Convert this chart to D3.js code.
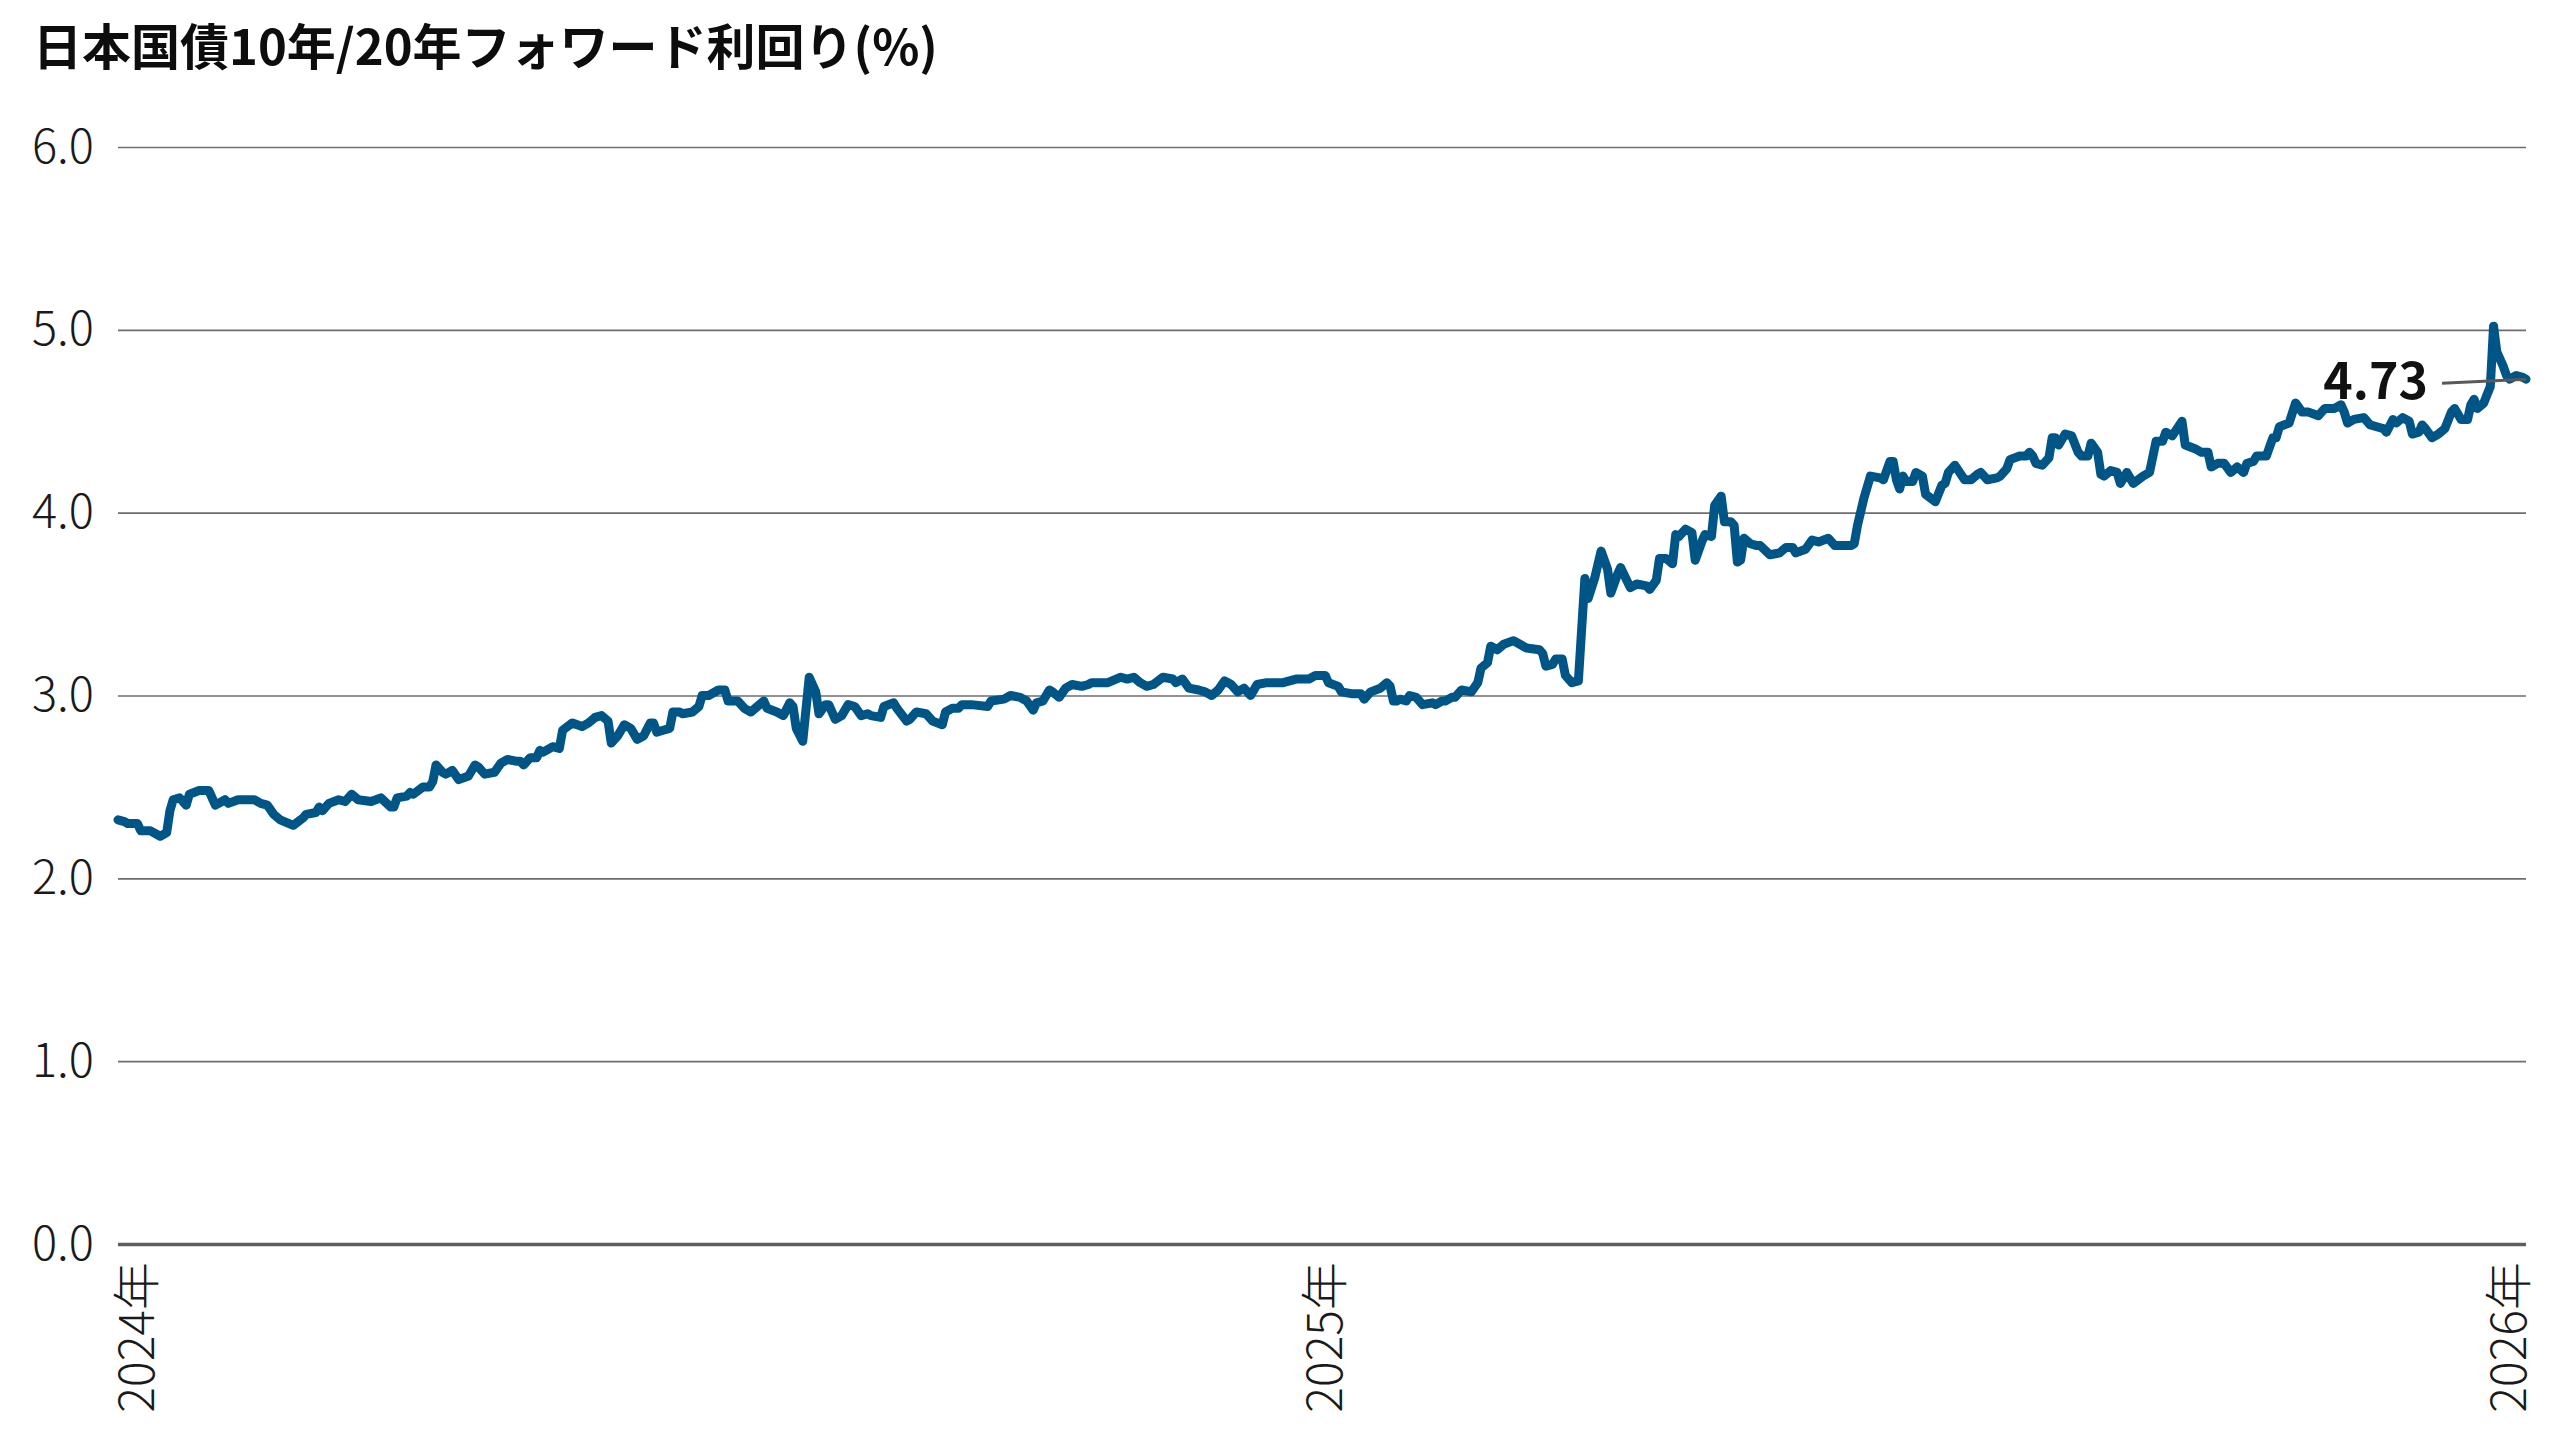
<!DOCTYPE html>
<html lang="ja">
<head>
<meta charset="utf-8">
<title>日本国債10年/20年フォワード利回り</title>
<script src="https://cdn.jsdelivr.net/npm/d3@7"></script>
<style>
  html, body { margin: 0; padding: 0; background: #fff; }
  svg { display: block; font-family: "Noto Sans CJK JP", "Noto Sans", sans-serif; }
</style>
</head>
<body>
<svg id="chart" width="2560" height="1440"></svg>
<script>
// --- data ---
const chartTitle = "日本国債10年/20年フォワード利回り(%)";
const startDate = new Date(2024, 0, 1);

// [days since 2024-01-01, yield %]
const yieldSeries = [
  [0, 2.32], [2, 2.31], [3, 2.30], [6, 2.30], [7, 2.26], [10, 2.26], [13, 2.23], [15, 2.25], [16, 2.37], [17, 2.43],
  [19, 2.44], [21, 2.40], [22, 2.46], [25, 2.48], [26, 2.48], [28, 2.48], [30, 2.40], [33, 2.43], [34, 2.41], [37, 2.43],
  [42, 2.43], [44, 2.41], [46, 2.40], [48, 2.35], [50, 2.32], [54, 2.29], [57, 2.33], [58, 2.35], [61, 2.36], [62, 2.39],
  [63, 2.37], [65, 2.41], [68, 2.43], [70, 2.42], [72, 2.46], [74, 2.43], [78, 2.42], [81, 2.44], [84, 2.39], [85, 2.39],
  [86, 2.44], [89, 2.45], [90, 2.47], [91, 2.46], [94, 2.50], [96, 2.50], [97, 2.53], [98, 2.62], [100, 2.58], [101, 2.57],
  [103, 2.59], [105, 2.54], [108, 2.56], [110, 2.62], [111, 2.61], [113, 2.57], [116, 2.58], [118, 2.63], [120, 2.65], [123, 2.64],
  [124, 2.64], [125, 2.62], [127, 2.66], [129, 2.66], [130, 2.70], [131, 2.69], [134, 2.72], [136, 2.71], [137, 2.81], [140, 2.85],
  [143, 2.83], [145, 2.85], [147, 2.88], [149, 2.89], [151, 2.86], [152, 2.74], [154, 2.78], [156, 2.84], [158, 2.82], [160, 2.76],
  [162, 2.78], [164, 2.85], [165, 2.85], [166, 2.80], [168, 2.81], [170, 2.82], [171, 2.91], [173, 2.91], [174, 2.90], [177, 2.91],
  [179, 2.94], [180, 3.00], [182, 3.00], [185, 3.03], [187, 3.03], [188, 2.97], [191, 2.97], [193, 2.93], [195, 2.91], [197, 2.94],
  [199, 2.97], [200, 2.93], [203, 2.91], [205, 2.89], [207, 2.96], [208, 2.94], [209, 2.82], [211, 2.75], [213, 3.10], [215, 3.02],
  [216, 2.90], [218, 2.95], [219, 2.95], [221, 2.87], [223, 2.89], [225, 2.95], [227, 2.94], [229, 2.89], [231, 2.90], [232, 2.89],
  [235, 2.88], [236, 2.94], [239, 2.96], [240, 2.93], [243, 2.86], [244, 2.87], [246, 2.91], [249, 2.90], [251, 2.86], [254, 2.84],
  [255, 2.91], [257, 2.93], [259, 2.93], [260, 2.95], [263, 2.95], [268, 2.94], [269, 2.97], [273, 2.98], [275, 3.00], [278, 2.99],
  [280, 2.97], [282, 2.92], [283, 2.96], [285, 2.97], [287, 3.03], [288, 3.02], [290, 2.99], [292, 3.04], [294, 3.06], [297, 3.05],
  [299, 3.06], [300, 3.07], [303, 3.07], [305, 3.07], [309, 3.10], [311, 3.09], [313, 3.10], [315, 3.07], [317, 3.05], [319, 3.06],
  [322, 3.10], [325, 3.09], [326, 3.07], [328, 3.09], [330, 3.04], [333, 3.03], [335, 3.02], [337, 3.00], [339, 3.03], [341, 3.08],
  [343, 3.06], [345, 3.02], [347, 3.04], [349, 3.00], [351, 3.06], [354, 3.07], [357, 3.07], [359, 3.07], [361, 3.08], [363, 3.09],
  [365, 3.09], [367, 3.09], [369, 3.11], [372, 3.11], [373, 3.07], [376, 3.05], [377, 3.02], [380, 3.01], [383, 3.01], [384, 2.98],
  [386, 3.02], [389, 3.04], [391, 3.07], [392, 3.05], [393, 2.97], [394, 2.97], [395, 2.98], [397, 2.97], [398, 3.00], [400, 2.99],
  [402, 2.95], [405, 2.96], [406, 2.95], [408, 2.97], [409, 2.97], [411, 2.99], [412, 2.99], [414, 3.03], [417, 3.02], [419, 3.07],
  [420, 3.15], [422, 3.18], [423, 3.27], [425, 3.25], [427, 3.28], [430, 3.30], [431, 3.29], [434, 3.26], [438, 3.25], [439, 3.23],
  [440, 3.16], [442, 3.17], [443, 3.20], [445, 3.20], [446, 3.11], [448, 3.07], [450, 3.08], [452, 3.64], [453, 3.53], [455, 3.64],
  [457, 3.79], [459, 3.69], [460, 3.56], [462, 3.66], [463, 3.70], [466, 3.59], [468, 3.61], [471, 3.60], [472, 3.58], [474, 3.63],
  [475, 3.75], [477, 3.75], [479, 3.72], [480, 3.88], [481, 3.87], [483, 3.91], [485, 3.89], [486, 3.74], [488, 3.84], [489, 3.88],
  [491, 3.87], [492, 4.04], [494, 4.09], [495, 3.95], [497, 3.95], [498, 3.93], [499, 3.73], [500, 3.74], [501, 3.86], [503, 3.83],
  [505, 3.82], [506, 3.82], [509, 3.77], [512, 3.78], [514, 3.81], [516, 3.81], [517, 3.78], [520, 3.80], [522, 3.85], [524, 3.84],
  [527, 3.86], [529, 3.82], [534, 3.82], [535, 3.83], [536, 3.93], [538, 4.08], [539, 4.14], [540, 4.20], [543, 4.19], [544, 4.18],
  [546, 4.28], [547, 4.28], [548, 4.18], [549, 4.13], [550, 4.20], [551, 4.17], [553, 4.17], [554, 4.22], [556, 4.20], [557, 4.10],
  [560, 4.06], [562, 4.15], [563, 4.16], [564, 4.22], [566, 4.26], [569, 4.18], [571, 4.18], [573, 4.21], [574, 4.22], [576, 4.18],
  [579, 4.19], [580, 4.20], [582, 4.24], [583, 4.29], [586, 4.31], [588, 4.31], [589, 4.33], [590, 4.31], [591, 4.27], [593, 4.26],
  [595, 4.30], [596, 4.41], [597, 4.41], [598, 4.37], [600, 4.43], [602, 4.42], [604, 4.33], [605, 4.31], [607, 4.31], [608, 4.38],
  [610, 4.33], [611, 4.21], [612, 4.20], [614, 4.23], [616, 4.22], [617, 4.16], [619, 4.22], [621, 4.16], [624, 4.20], [626, 4.22],
  [628, 4.39], [630, 4.39], [631, 4.44], [633, 4.42], [636, 4.50], [637, 4.37], [640, 4.35], [642, 4.33], [644, 4.33], [645, 4.25],
  [647, 4.27], [649, 4.27], [651, 4.22], [653, 4.25], [655, 4.22], [656, 4.27], [658, 4.28], [659, 4.31], [662, 4.31], [664, 4.41],
  [665, 4.41], [666, 4.47], [669, 4.49], [671, 4.60], [673, 4.55], [675, 4.55], [678, 4.53], [680, 4.57], [683, 4.57], [685, 4.59],
  [686, 4.55], [687, 4.49], [689, 4.51], [692, 4.52], [694, 4.48], [696, 4.47], [698, 4.46], [699, 4.44], [701, 4.51], [702, 4.49],
  [704, 4.52], [706, 4.50], [707, 4.43], [709, 4.44], [710, 4.48], [711, 4.46], [713, 4.41], [715, 4.43], [717, 4.46], [719, 4.55],
  [720, 4.57], [722, 4.51], [724, 4.51], [725, 4.59], [726, 4.62], [727, 4.57], [729, 4.60], [731, 4.69], [732, 5.02], [733, 4.88],
  [735, 4.80], [736, 4.75], [737, 4.73], [739, 4.75], [741, 4.74], [742, 4.73]
];

const yTicks = [0, 1, 2, 3, 4, 5, 6];
const yearTicks = [new Date(2024, 0, 1), new Date(2025, 0, 1), new Date(2026, 0, 1)];
const yearLabels = ["2024年", "2025年", "2026年"];

// --- layout ---
const width = 2560, height = 1440;
const margin = { top: 147, right: 34, bottom: 196, left: 118 };
const lineColour = "#005587";

const svg = d3.select("#chart");

const data = yieldSeries.map(([d, v]) => ({ date: d3.timeDay.offset(startDate, d), value: v }));
const last = data[data.length - 1];

const x = d3.scaleTime()
    .domain([startDate, last.date])
    .range([margin.left, width - margin.right]);

const y = d3.scaleLinear()
    .domain([0, 6])
    .range([height - margin.bottom, margin.top]);

// title
svg.append("text")
    .attr("x", 33)
    .attr("y", 65)
    .attr("font-size", 49)
    .attr("font-weight", 700)
    .attr("fill", "#0d0d0d")
    .text(chartTitle);

// gridlines + y labels
const yAxis = svg.append("g")
    .attr("transform", `translate(${margin.left},0)`)
    .call(d3.axisLeft(y)
        .tickValues(yTicks)
        .tickFormat(d3.format(".1f"))
        .tickSize(-(width - margin.left - margin.right))
        .tickPadding(24));

yAxis.select(".domain").remove();
yAxis.selectAll(".tick line")
    .attr("stroke", d => d === 0 ? "#5c5e62" : "#6e6e6e")
    .attr("stroke-width", d => d === 0 ? 3.5 : 1.6);
yAxis.selectAll(".tick text")
    .attr("font-size", 47)
    .attr("font-weight", 300)
    .attr("font-family", "'Noto Sans CJK JP', sans-serif")
    .attr("fill", "#1a1a1a");

// x labels (rotated)
svg.append("g")
    .selectAll("text")
    .data(yearTicks)
    .join("text")
    .attr("transform", d => `translate(${x(d) + 36},${height - margin.bottom + 18}) rotate(-90)`)
    .attr("text-anchor", "end")
    .attr("font-size", 48)
    .attr("font-weight", 300)
    .attr("fill", "#1a1a1a")
    .text((d, i) => yearLabels[i]);

// series line
const line = d3.line()
    .x(d => x(d.date))
    .y(d => y(d.value));

svg.append("path")
    .datum(data)
    .attr("fill", "none")
    .attr("stroke", lineColour)
    .attr("stroke-width", 9)
    .attr("stroke-linejoin", "round")
    .attr("stroke-linecap", "round")
    .attr("d", line);

// last value callout
const lx = x(last.date), ly = y(last.value);
svg.append("line")
    .attr("x1", lx - 84)
    .attr("y1", ly + 4)
    .attr("x2", lx)
    .attr("y2", ly)
    .attr("stroke", "#595959")
    .attr("stroke-width", 3);

svg.append("text")
    .attr("x", lx - 98)
    .attr("y", ly + 20)
    .attr("text-anchor", "end")
    .attr("font-size", 50)
    .attr("font-weight", 700)
    .attr("fill", "#111")
    .text(last.value.toFixed(2));
</script>
</body>
</html>
